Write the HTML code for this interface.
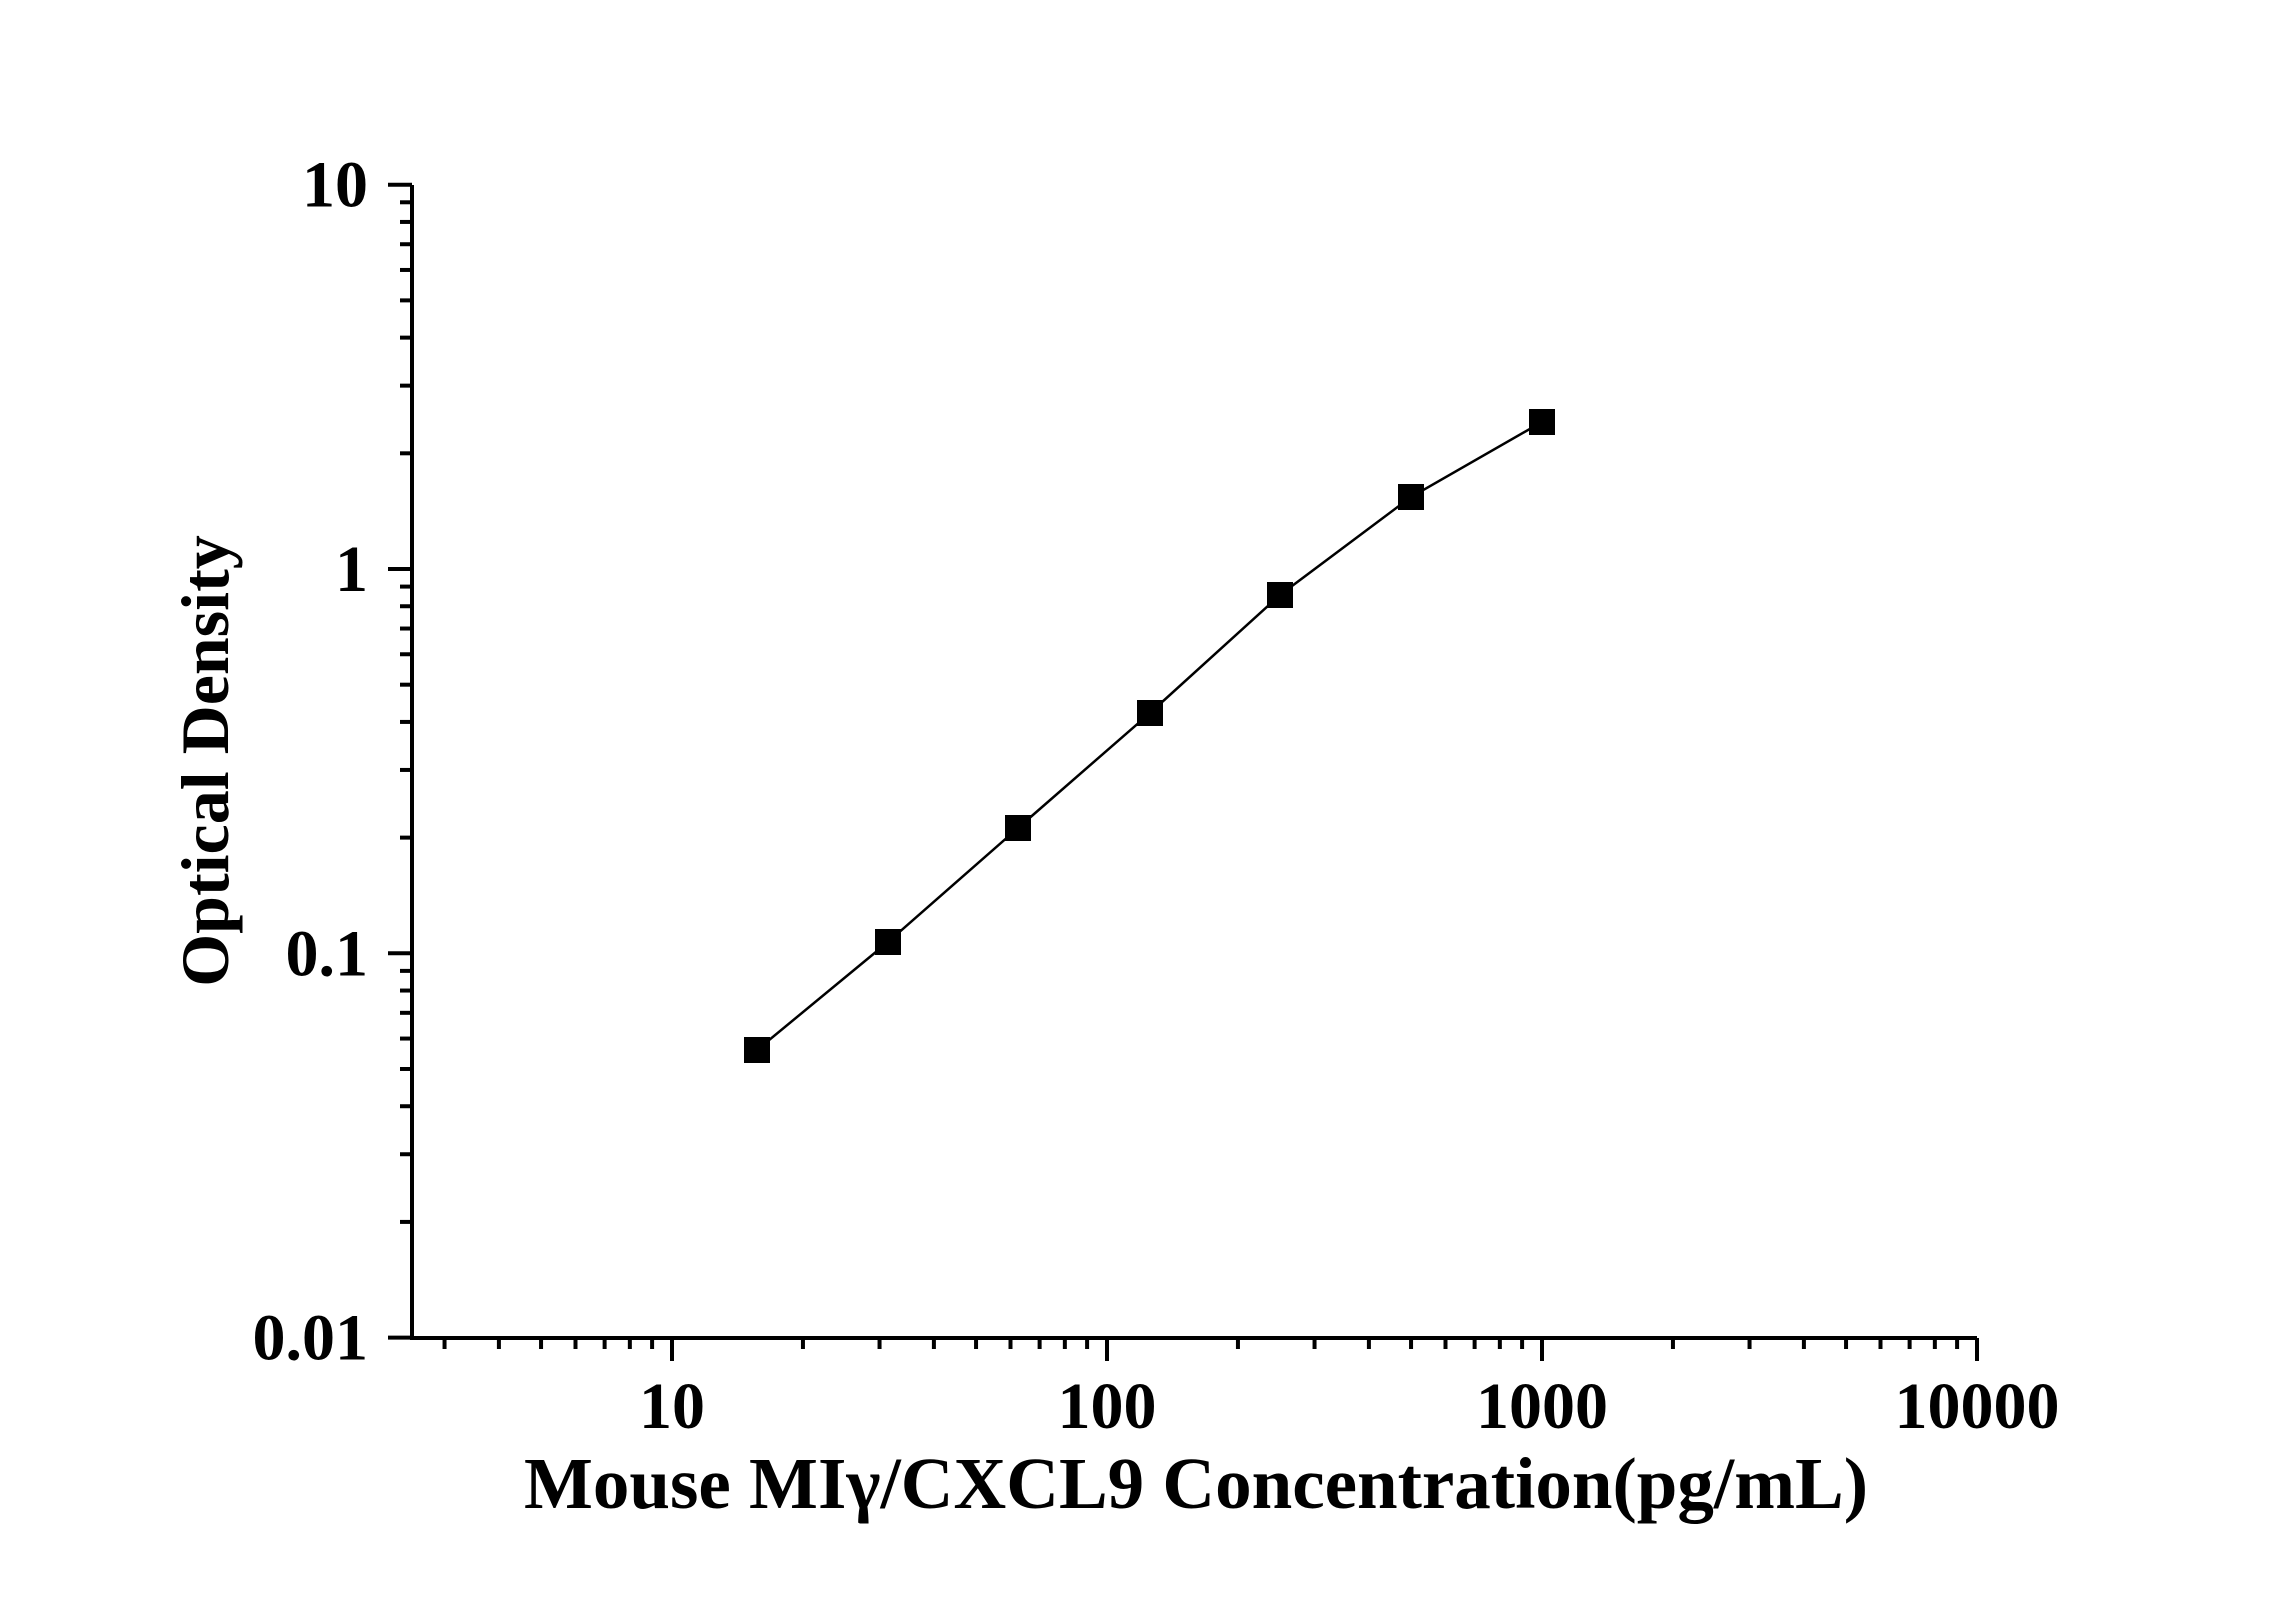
<!DOCTYPE html>
<html><head><meta charset="utf-8"><style>
html,body{margin:0;padding:0;background:#fff;}
svg{display:block;}
text{font-family:"Liberation Serif",serif;font-weight:bold;fill:#000;}
</style></head><body>
<svg id="s" width="2296" height="1604" xmlns="http://www.w3.org/2000/svg">
<g id="g" stroke="#000" stroke-width="4" fill="none"></g>
<g id="t"></g>
</svg>
<script>
var X0=672,DX=435,Y1=569,DY=384.3;
function xp(v){return X0+(Math.log10(v)-1)*DX;}
function yp(v){return Y1-Math.log10(v)*DY;}
var g=document.getElementById('g'),t=document.getElementById('t'),NS='http://www.w3.org/2000/svg';
function el(p,n,a,txt){var e=document.createElementNS(NS,n);for(var k in a)e.setAttribute(k,a[k]);if(txt)e.textContent=txt;p.appendChild(e);return e;}
var L=412,R=1977,T=185,B=1338;
el(g,'path',{d:'M'+L+' '+T+' V'+B+' H'+R});
for(var d=-2;d<=1;d++){var y=yp(Math.pow(10,d));el(g,'line',{x1:L-24,x2:L,y1:y,y2:y});
 if(d<1)for(var m=2;m<=9;m++){var yy=yp(m*Math.pow(10,d));el(g,'line',{x1:L-12,x2:L,y1:yy,y2:yy});}}
var yl=[['0.01',-2],['0.1',-1],['1',0],['10',1]];
yl.forEach(function(a){el(t,'text',{x:368,y:yp(Math.pow(10,a[1]))+22,'text-anchor':'end','font-size':66},a[0]);});
for(var d=0;d<=4;d++){var b=Math.pow(10,d);
 if(d>=1){var x=xp(b);el(g,'line',{x1:x,x2:x,y1:B,y2:B+23});}
 if(d<4)for(var m=2;m<=9;m++){var v=m*b;var xx=xp(v);if(xx>L+2)el(g,'line',{x1:xx,x2:xx,y1:B,y2:B+11});}}
['10','100','1000','10000'].forEach(function(s,i){el(t,'text',{x:xp(Math.pow(10,i+1)),y:1428,'text-anchor':'middle','font-size':66},s);});
var px=[757,888,1018,1150,1280,1411,1542],py=[1050,942,828,713,595,497,422];
var d='';for(var i=0;i<7;i++)d+=(i?'L':'M')+px[i]+' '+py[i];
el(g,'path',{d:d,'stroke-width':2.5});
for(var i=0;i<7;i++)el(t,'rect',{x:px[i]-13,y:py[i]-13,width:26,height:26,fill:'#000'});
el(t,'text',{x:1196,y:1508,'text-anchor':'middle','font-size':73},'Mouse MIγ/CXCL9 Concentration(pg/mL)');
el(t,'text',{x:0,y:0,'text-anchor':'middle','font-size':68,transform:'translate(228,761) rotate(-90)'},'Optical Density');
</script>
</body></html>
